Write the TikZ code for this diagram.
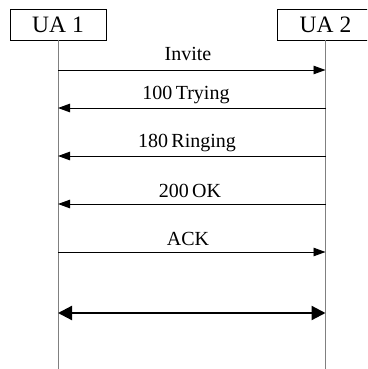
\documentclass[tikz,border=0pt]{standalone}
\usepackage{fontspec}
\setmainfont{Liberation Serif}
\usetikzlibrary{arrows.meta}
\begin{document}
\begin{tikzpicture}[x=1pt,y=-1pt,
  uabox/.style={draw=black, line width=0.9pt, minimum width=96pt, minimum height=31pt, inner sep=0pt, font=\fontsize{23.5}{26}\selectfont},
  lifeline/.style={draw=black!50, line width=1pt},
  msg/.style={draw=black, line width=0.9pt, -{Triangle[length=12pt,width=8.5pt]}},
  bigmsg/.style={draw=black, line width=2.2pt, {Triangle[length=14pt,width=14pt]}-{Triangle[length=14pt,width=14pt]}},
  lbl/.style={anchor=base, inner sep=0pt, font=\fontsize{20}{24}\selectfont}]
\useasboundingbox (0,0) rectangle (367,369);
\clip (0,0) rectangle (367,369);
\node[uabox] (ua1) at (58,24.5) {UA 1};
\node[uabox] (ua2) at (325.5,24.5) {UA 2};
\coordinate (e1) at (58,369);
\coordinate (e2) at (325.5,369);
\draw[lifeline] (ua1.south) -- (e1);
\draw[lifeline] (ua2.south) -- (e2);
% rows
\coordinate (a1) at (58,70);  \coordinate (b1) at (325.5,70);
\coordinate (a2) at (58,108); \coordinate (b2) at (325.5,108);
\coordinate (a3) at (58,156); \coordinate (b3) at (325.5,156);
\coordinate (a4) at (58,204); \coordinate (b4) at (325.5,204);
\coordinate (a5) at (58,252); \coordinate (b5) at (325.5,252);
\coordinate (a6) at (58,313); \coordinate (b6) at (325.5,313);
\draw[msg] (a1) -- (b1);
\draw[msg] (b2) -- (a2);
\draw[msg] (b3) -- (a3);
\draw[msg] (b4) -- (a4);
\draw[msg] (a5) -- (b5);
\draw[bigmsg] (a6) -- (b6);
\node[lbl] (t1) at (188,60.5) {Invite};
\node[lbl] (t2) at (186,99.5) {100\,Trying};
\node[lbl] (t3) at (187,147) {180\,Ringing};
\node[lbl] (t4) at (190,197) {200\,OK};
\node[lbl] (t5) at (188,245.5) {ACK};
\end{tikzpicture}
\end{document}
